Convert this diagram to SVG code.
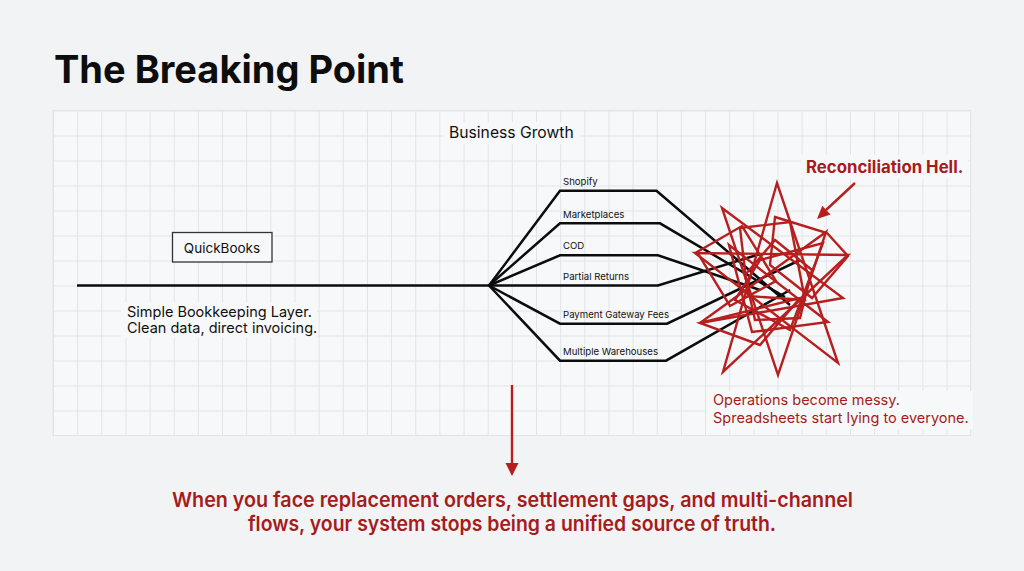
<svg xmlns="http://www.w3.org/2000/svg" width="1024" height="571" viewBox="0 0 1024 571">
<style>
.sans{font-family:Inter,"Noto Sans","Liberation Sans",sans-serif}
.blk{fill:none;stroke:#0c0c0c;stroke-width:2.5;stroke-linejoin:miter}
.red{fill:none;stroke:#b71f1f;stroke-width:2.4;stroke-linejoin:miter}
.lbl{font-size:9.6px;fill:#111}
.bg{fill:#f7f8f9}
.rt{fill:#a61b1b}
</style>
<defs>
<pattern id="grid" x="53" y="110.5" width="24.15" height="25" patternUnits="userSpaceOnUse">
<path d="M0.5 0V25M0 0.5H24.15" stroke="#e1e4e7" stroke-width="1" fill="none"/>
</pattern>
</defs>
<rect width="1024" height="571" fill="#f2f3f5"/>
<g id="title"><text class="sans" x="54" y="83" font-size="38" font-weight="700" fill="#0d0d0d">The Breaking Point</text></g>
<g id="panel">
<rect x="53" y="110.5" width="917.7" height="325" fill="#f7f8f9"/>
<rect x="53" y="110.5" width="917.7" height="325" fill="url(#grid)" stroke="#e1e4e7" stroke-width="1"/>
</g>
<g id="growth-label">
<rect class="bg" x="444" y="122" width="136" height="22"/>
<text class="sans" x="449" y="138" font-size="15.7" fill="#111">Business Growth</text>
</g>
<g id="connectors">
<path class="blk" d="M77 285.5H489"/>
<path class="blk" d="M489 285.5L560 190.7H656.5L790 305"/>
<path class="blk" d="M489 285.5L560 223.3H660L785 297"/>
<path class="blk" d="M489 285.5L560 255.3H658L760 290"/>
<path class="blk" d="M489 285.5H658L760 254"/>
<path class="blk" d="M489 285.5L560 323.7H667L800 260"/>
<path class="blk" d="M489 285.5L560 360.7H666L790 290"/>
</g>
<g id="branch-labels" class="sans lbl">
<text x="563" y="185">Shopify</text>
<text x="563" y="218">Marketplaces</text>
<text x="563" y="249">COD</text>
<text x="563" y="279.5">Partial Returns</text>
<text x="563" y="318">Payment Gateway Fees</text>
<text x="563" y="355">Multiple Warehouses</text>
</g>
<g id="quickbooks">
<rect x="172.5" y="232.5" width="99.5" height="29.5" fill="#f7f8f9" stroke="#333" stroke-width="1.3"/>
<text class="sans" x="222" y="252.5" font-size="13.5" fill="#111" text-anchor="middle">QuickBooks</text>
</g>
<g id="simple-label">
<rect class="bg" x="121" y="302" width="196" height="36"/>
<text class="sans" font-size="14.5" fill="#111"><tspan x="127" y="316.5">Simple Bookkeeping Layer.</tspan><tspan x="127" y="333">Clean data, direct invoicing.</tspan></text>
</g>
<g id="mess">
<path class="red" d="M777 183L838 363L695 253L848 255L723 372Z"/>
<path class="red" d="M722 208L843 298L700 323L826 232L778 375Z"/>
<path class="red" d="M697 252L742 226L776 281L730 306Z"/>
<path class="red" d="M775 217L827 233L848 256L812 298L770 265Z"/>
<path class="red" d="M700 323L800 298L760 345Z"/>
<path class="red" d="M729 245L828 322L752 332Z"/>
<path class="red" d="M775 240L812 270L800 318L755 320L745 275Z"/>
<path class="red" d="M760 260L823 243L790 330L735 300Z"/>
<path class="red" d="M740 228L790 222L805 300L748 296Z"/>
</g>
<g id="reconciliation">
<rect class="bg" x="801" y="155" width="167" height="24"/>
<text class="sans rt" x="806" y="173" font-size="16.8" font-weight="700">Reconciliation Hell.</text>
<path d="M855 183L826 210" stroke="#b71f1f" stroke-width="2.4"/>
<path d="M817 219L830.5 214.5L822.3 205.7Z" fill="#b71f1f"/>
</g>
<g id="ops-label">
<rect class="bg" x="707" y="391" width="266" height="38"/>
<text class="sans rt" font-size="14.5"><tspan x="713" y="405">Operations become messy.</tspan><tspan x="713" y="423">Spreadsheets start lying to everyone.</tspan></text>
</g>
<g id="down-arrow">
<path d="M512 385V465" stroke="#b71f1f" stroke-width="2.4"/>
<path d="M505.5 463H518.5L512 476Z" fill="#b71f1f"/>
</g>
<g id="conclusion" class="sans rt" font-size="20.5" font-weight="600">
<text x="172" y="507" textLength="681" lengthAdjust="spacingAndGlyphs">When you face replacement orders, settlement gaps, and multi-channel</text>
<text x="248" y="531" textLength="528" lengthAdjust="spacingAndGlyphs">flows, your system stops being a unified source of truth.</text>
</g>
</svg>
